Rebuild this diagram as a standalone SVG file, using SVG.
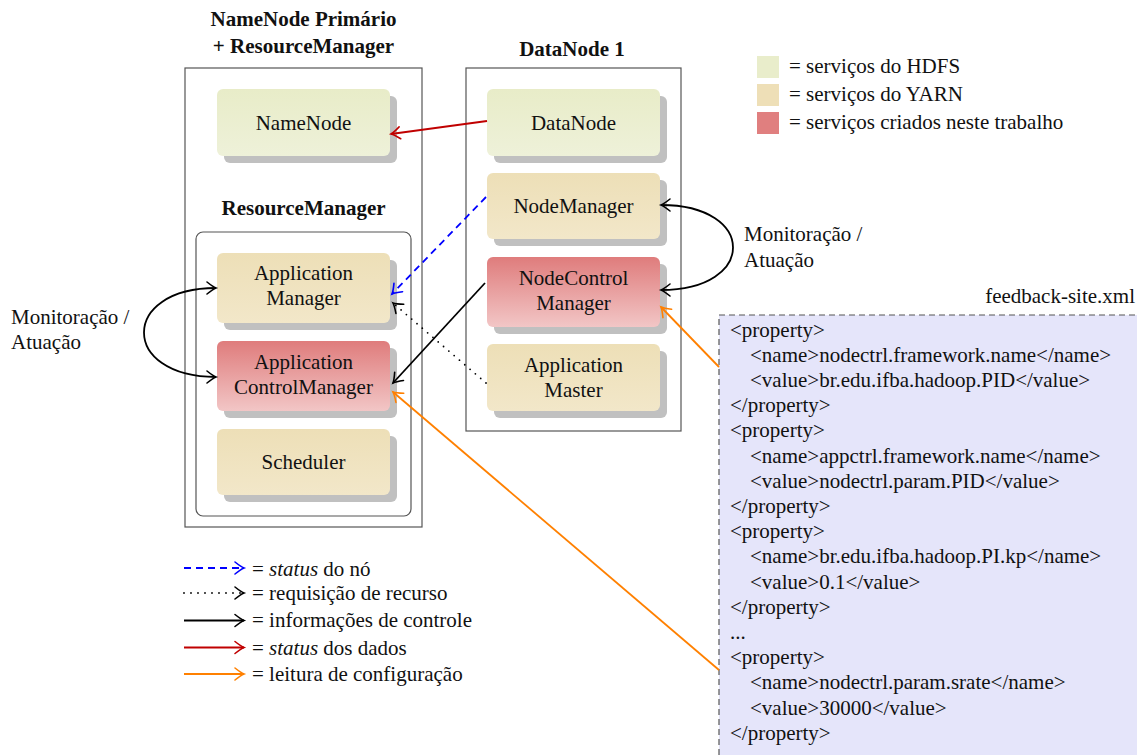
<svg xmlns="http://www.w3.org/2000/svg" width="1137" height="755" viewBox="0 0 1137 755" font-family="'Liberation Serif', 'Times New Roman', Times, serif">
<defs>
<linearGradient id="gH" x1="0" y1="0" x2="0" y2="1"><stop offset="0" stop-color="#e8ecc8"/><stop offset="1" stop-color="#eef1d9"/></linearGradient>
<linearGradient id="gY" x1="0" y1="0" x2="0" y2="1"><stop offset="0" stop-color="#eddfb7"/><stop offset="1" stop-color="#f2e7c9"/></linearGradient>
<linearGradient id="gR" x1="0" y1="0" x2="0" y2="1"><stop offset="0" stop-color="#df7c7c"/><stop offset="1" stop-color="#f2c6c6"/></linearGradient>
<marker id="ak" markerUnits="userSpaceOnUse" markerWidth="24" markerHeight="24" viewBox="-12 -12 24 24" refX="0" refY="0" orient="auto-start-reverse" overflow="visible"><path d="M -9,-6 Q -3,-1.2 0,0 Q -3,1.2 -9,6" fill="none" stroke="#000" stroke-width="1.6" stroke-linecap="round"/></marker>
<marker id="ab" markerUnits="userSpaceOnUse" markerWidth="24" markerHeight="24" viewBox="-12 -12 24 24" refX="0" refY="0" orient="auto" overflow="visible"><path d="M -9,-6 Q -3,-1.2 0,0 Q -3,1.2 -9,6" fill="none" stroke="#0000ff" stroke-width="1.6" stroke-linecap="round"/></marker>
<marker id="ar" markerUnits="userSpaceOnUse" markerWidth="24" markerHeight="24" viewBox="-12 -12 24 24" refX="0" refY="0" orient="auto" overflow="visible"><path d="M -9,-6 Q -3,-1.2 0,0 Q -3,1.2 -9,6" fill="none" stroke="#c00000" stroke-width="1.6" stroke-linecap="round"/></marker>
<marker id="ao" markerUnits="userSpaceOnUse" markerWidth="24" markerHeight="24" viewBox="-12 -12 24 24" refX="0" refY="0" orient="auto" overflow="visible"><path d="M -9,-6 Q -3,-1.2 0,0 Q -3,1.2 -9,6" fill="none" stroke="#ff8000" stroke-width="1.6" stroke-linecap="round"/></marker>
</defs>
<style>
text{font-family:'Liberation Serif','Times New Roman',Times,serif;font-size:21px;fill:#111}
.b{font-weight:bold}
.m{text-anchor:middle}
.box{fill:none;stroke:#555;stroke-width:1.2}
.sh{fill:#c0c0c0}
.c{fill:none;stroke-width:1.8}
</style>
<rect width="1137" height="755" fill="#fff"/>

<!-- containers -->
<g id="primary">
<text class="b m" x="303.5" y="26">NameNode Primário</text>
<text class="b m" x="303.5" y="53">+ ResourceManager</text>
<rect class="box" x="185" y="68" width="237" height="459"/>
<text class="b m" x="303.5" y="215">ResourceManager</text>
<rect class="box" x="196" y="232" width="215" height="284" rx="7"/>
</g>
<g id="datanode1">
<text class="b m" x="572" y="56">DataNode 1</text>
<rect class="box" x="466" y="68" width="215" height="363"/>
</g>

<!-- nodes -->
<g id="namenode"><rect class="sh" x="224" y="96" width="173" height="67" rx="6"/><rect x="217" y="89" width="173" height="67" rx="6" fill="url(#gH)"/><text class="m" x="303.5" y="130">NameNode</text></g>
<g id="appmanager"><rect class="sh" x="224" y="260" width="173" height="70" rx="6"/><rect x="217" y="253" width="173" height="70" rx="6" fill="url(#gY)"/><text class="m" x="303.5" y="280">Application</text><text class="m" x="303.5" y="305">Manager</text></g>
<g id="appcontrolmanager"><rect class="sh" x="224" y="348" width="173" height="70" rx="6"/><rect x="217" y="341" width="173" height="70" rx="6" fill="url(#gR)"/><text class="m" x="303.5" y="368.5">Application</text><text class="m" x="303.5" y="393.5">ControlManager</text></g>
<g id="scheduler"><rect class="sh" x="224" y="436" width="173" height="66" rx="6"/><rect x="217" y="429" width="173" height="66" rx="6" fill="url(#gY)"/><text class="m" x="303.5" y="469">Scheduler</text></g>

<g id="datanode"><rect class="sh" x="494" y="96" width="173" height="67" rx="6"/><rect x="487" y="89" width="173" height="67" rx="6" fill="url(#gH)"/><text class="m" x="573.5" y="130">DataNode</text></g>
<g id="nodemanager"><rect class="sh" x="494" y="180" width="173" height="66" rx="6"/><rect x="487" y="173" width="173" height="66" rx="6" fill="url(#gY)"/><text class="m" x="573.5" y="213">NodeManager</text></g>
<g id="nodecontrolmanager"><rect class="sh" x="494" y="264" width="173" height="70" rx="6"/><rect x="487" y="257" width="173" height="70" rx="6" fill="url(#gR)"/><text class="m" x="573.5" y="284.5">NodeControl</text><text class="m" x="573.5" y="309.5">Manager</text></g>
<g id="appmaster"><rect class="sh" x="494" y="351" width="173" height="67" rx="6"/><rect x="487" y="344" width="173" height="67" rx="6" fill="url(#gY)"/><text class="m" x="573.5" y="372">Application</text><text class="m" x="573.5" y="397">Master</text></g>

<!-- xml file -->
<g id="feedback-site">
<text x="1135" y="303" style="text-anchor:end">feedback-site.xml</text>
<rect x="719" y="315" width="440" height="460" fill="#e5e5fa" stroke="#555" stroke-width="1.2" stroke-dasharray="6,4"/>
<text x="730" y="336.5">&lt;property&gt;</text>
<text x="750" y="361.7">&lt;name&gt;nodectrl.framework.name&lt;/name&gt;</text>
<text x="750" y="386.9">&lt;value&gt;br.edu.ifba.hadoop.PID&lt;/value&gt;</text>
<text x="730" y="412.1">&lt;/property&gt;</text>
<text x="730" y="437.3">&lt;property&gt;</text>
<text x="750" y="462.5">&lt;name&gt;appctrl.framework.name&lt;/name&gt;</text>
<text x="750" y="487.7">&lt;value&gt;nodectrl.param.PID&lt;/value&gt;</text>
<text x="730" y="512.9">&lt;/property&gt;</text>
<text x="730" y="538.1">&lt;property&gt;</text>
<text x="750" y="563.3">&lt;name&gt;br.edu.ifba.hadoop.PI.kp&lt;/name&gt;</text>
<text x="750" y="588.5">&lt;value&gt;0.1&lt;/value&gt;</text>
<text x="730" y="613.7">&lt;/property&gt;</text>
<text x="730" y="638.9">...</text>
<text x="730" y="664.1">&lt;property&gt;</text>
<text x="750" y="689.3">&lt;name&gt;nodectrl.param.srate&lt;/name&gt;</text>
<text x="750" y="714.5">&lt;value&gt;30000&lt;/value&gt;</text>
<text x="730" y="739.7">&lt;/property&gt;</text>
</g>

<!-- connectors -->
<g id="connectors">
<line class="c" x1="487" y1="121" x2="391" y2="134" stroke="#c00000" marker-end="url(#ar)"/>
<line class="c" x1="486" y1="197" x2="392" y2="294" stroke="#0000ff" stroke-dasharray="7,5" marker-end="url(#ab)"/>
<line class="c" x1="486" y1="383" x2="393" y2="303" stroke="#000" stroke-dasharray="0,7" stroke-linecap="round" marker-end="url(#ak)"/>
<line class="c" x1="485" y1="283" x2="393" y2="383" stroke="#000" marker-end="url(#ak)"/>
<line class="c" x1="719" y1="367" x2="661" y2="307" stroke="#ff8000" marker-end="url(#ao)"/>
<line class="c" x1="719" y1="670" x2="393" y2="392" stroke="#ff8000" marker-end="url(#ao)"/>
<path class="c" d="M 216,288 C 120,288 120,377 216,377" stroke="#000" marker-start="url(#ak)" marker-end="url(#ak)"/>
<path class="c" d="M 661,205 C 757,205 757,290 661,290" stroke="#000" marker-start="url(#ak)" marker-end="url(#ak)"/>
</g>

<!-- loop labels -->
<g id="labels">
<text x="11" y="323.5">Monitoração /</text>
<text x="11" y="349">Atuação</text>
<text x="744" y="241">Monitoração /</text>
<text x="744" y="266.5">Atuação</text>
</g>

<!-- legends -->
<g id="legend-colors">
<rect x="757" y="56" width="22" height="22" fill="#e9edcb"/>
<text x="789" y="72.5">= serviços do HDFS</text>
<rect x="757" y="84" width="22" height="22" fill="#eedfb7"/>
<text x="789" y="100.5">= serviços do YARN</text>
<rect x="757" y="112" width="22" height="22" fill="#e07f7f"/>
<text x="789" y="128.5">= serviços criados neste trabalho</text>
</g>
<g id="legend-arrows">
<line class="c" x1="184" y1="568" x2="244" y2="568" stroke="#0000ff" stroke-dasharray="7,5" marker-end="url(#ab)"/>
<text x="252" y="575.5">= <tspan font-style="italic">status</tspan> do nó</text>
<line class="c" x1="184" y1="593" x2="244" y2="593" stroke="#000" stroke-dasharray="0,7" stroke-linecap="round" marker-end="url(#ak)"/>
<text x="252" y="600">= requisição de recurso</text>
<line class="c" x1="184" y1="620.5" x2="244" y2="620.5" stroke="#000" marker-end="url(#ak)"/>
<text x="252" y="627">= informações de controle</text>
<line class="c" x1="184" y1="647.5" x2="244" y2="647.5" stroke="#c00000" marker-end="url(#ar)"/>
<text x="252" y="655">= <tspan font-style="italic">status</tspan> dos dados</text>
<line class="c" x1="184" y1="674" x2="244" y2="674" stroke="#ff8000" marker-end="url(#ao)"/>
<text x="252" y="680.5">= leitura de configuração</text>
</g>
</svg>
